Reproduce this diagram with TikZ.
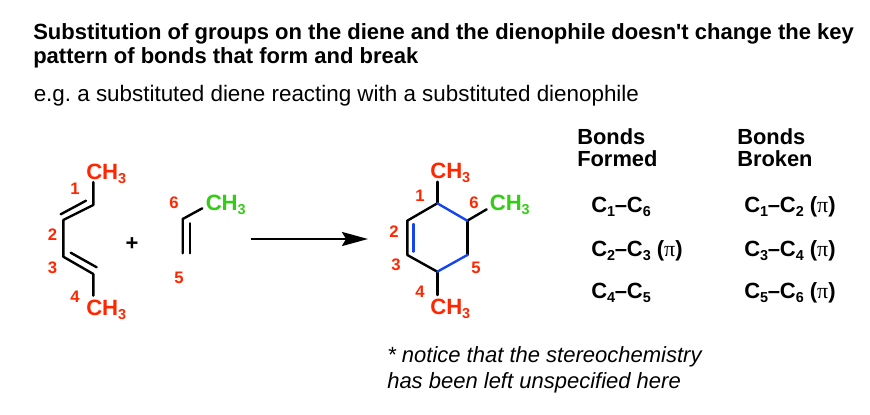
\documentclass[tikz,border=0pt]{standalone}
\usepackage{fontspec}
\setmainfont{Liberation Sans}
\newfontfamily\pifont{Liberation Serif}
\newfontfamily\plainq[Ligatures=ResetAll]{Liberation Sans Bold}
\usetikzlibrary{arrows.meta}
\definecolor{molred}{RGB}{255,38,0}
\definecolor{molgreen}{RGB}{50,205,20}
\definecolor{molblue}{RGB}{20,70,240}
\tikzset{
 bond/.style={line width=1.8pt,line cap=round,line join=round,black},
 newbond/.style={bond,draw=molblue},
 titletext/.style={inner sep=0,anchor=base west,align=left,font=\fontsize{16.5}{18.2}\selectfont\bfseries},
 subtext/.style={inner sep=0,anchor=base west,font=\fontsize{16.8}{20}\selectfont},
 note/.style={inner sep=0,anchor=base west,align=left,font=\fontsize{16.5}{19}\selectfont\itshape},
 head/.style={inner sep=0,anchor=base west,align=left,font=\fontsize{16.4}{16.5}\selectfont\bfseries},
 eqn/.style={inner sep=0,anchor=base west,font=\fontsize{16.5}{18}\selectfont\bfseries},
 num/.style={inner sep=0,text=molred,font=\fontsize{12.5}{14}\selectfont\bfseries},
 grp/.style={inner sep=0,anchor=base west,text=molred,font=\fontsize{16.6}{18}\selectfont\bfseries},
 grpg/.style={grp,text=molgreen},
}
\newcommand{\lowsub}[1]{\raisebox{-3.2pt}{\fontsize{10.8}{11}\selectfont #1}}
\newcommand{\CC}[2]{C\lowsub{#1}\kern-0.2pt–\kern-0.2pt C\lowsub{#2}}
\newcommand{\PI}{ ({\pifont\mdseries π})}
\newcommand{\METH}{CH\lowsub{3}}
\frenchspacing
\begin{document}
\begin{tikzpicture}[x=0.75pt,y=-0.75pt]
\useasboundingbox (0,0) rectangle (870,414);
% text
\node[titletext] (t1) at (33,63.5) {Substitution of groups on the diene and the dienophile doesn{\plainq\char39}t change the key\\pattern of bonds that form and break};
\node[subtext] (t2) at (33.5,101.5) {e.g. a substituted diene reacting with a substituted dienophile};
\node[note] (t3) at (387,388) {* notice that the stereochemistry\\has been left unspecified here};
% diene
\coordinate (a0) at (93.3,182);
\coordinate (a1) at (93.3,205);
\coordinate (a2) at (63.3,220);
\coordinate (a3) at (63.3,256.7);
\coordinate (a4) at (93.3,274);
\coordinate (a5) at (93.3,295.7);
\coordinate (b1) at (86,200.7);
\coordinate (b2) at (60.7,214.3);
\coordinate (b3) at (70.7,252.7);
\coordinate (b4) at (96.7,267.3);
\draw[bond] (a0) -- (a1) -- (a2) -- (a3) -- (a4) -- (a5);
\draw[bond] (b1) -- (b2);
\draw[bond] (b3) -- (b4);
\node[grp] (m1) at (86,179) {\METH};
\node[grp] (m2) at (86,315) {\METH};
\node[num] (n1) at (75,189) {1};
\node[num] (n2) at (52.5,235) {2};
\node[num] (n3) at (52.5,268) {3};
\node[num] (n4) at (75,297) {4};
\node[inner sep=0,font=\fontsize{16.5}{18}\selectfont\bfseries] (plus) at (132,244) {+};
% dienophile
\coordinate (d0) at (202.3,208.3);
\coordinate (d1) at (182.7,219);
\coordinate (d2) at (182.7,253.3);
\coordinate (e1) at (190,223.3);
\coordinate (e2) at (190,253.3);
\draw[bond] (d0) -- (d1) -- (d2);
\draw[bond] (e1) -- (e2);
\node[grpg] (m3) at (205.5,210) {\METH};
\node[num] (n6) at (174,203) {6};
\node[num] (n5) at (179,278) {5};
% arrow
\coordinate (ar1) at (250.5,239);
\coordinate (ar2) at (368,239);
\draw[line width=1.8pt,-{Stealth[length=19.5pt,width=10.5pt,inset=3pt]}] (ar1) -- (ar2);
% product
\coordinate (r1) at (437.3,203.3);
\coordinate (r0) at (437.3,181.7);
\coordinate (r6) at (467.3,220.7);
\coordinate (r7) at (486.7,209.3);
\coordinate (r5) at (467.3,255);
\coordinate (r4) at (437.3,271.7);
\coordinate (r8) at (437.3,295);
\coordinate (r3) at (407.3,255);
\coordinate (r2) at (407.3,220.7);
\coordinate (i2) at (413.3,224);
\coordinate (i3) at (413.3,251.7);
\draw[bond] (r0) -- (r1);
\draw[bond] (r6) -- (r7);
\draw[bond] (r6) -- (r5);
\draw[bond] (r4) -- (r8);
\draw[bond] (r4) -- (r3) -- (r2) -- (r1);
\draw[newbond] (r1) -- (r6);
\draw[newbond] (r5) -- (r4);
\draw[newbond] (i2) -- (i3);
\node[grp] (m4) at (430,178) {\METH};
\node[grpg] (m5) at (489.5,210) {\METH};
\node[grp] (m6) at (430,314) {\METH};
\node[num] (p1) at (420,196) {1};
\node[num] (p2) at (394,232) {2};
\node[num] (p3) at (396,265) {3};
\node[num] (p4) at (420,292) {4};
\node[num] (p5) at (476,268) {5};
\node[num] (p6) at (474,203) {6};
% tables
\node[head] (h1) at (577,166) {Bonds\\Formed};
\node[head] (h2) at (737,166) {Bonds\\Broken};
\node[eqn] (c1) at (591,212.5) {\CC{1}{6}};
\node[eqn] (c2) at (591,256) {\CC{2}{3}\PI};
\node[eqn] (c3) at (591,298.5) {\CC{4}{5}};
\node[eqn] (c4) at (744,212.5) {\CC{1}{2}\PI};
\node[eqn] (c5) at (744,256) {\CC{3}{4}\PI};
\node[eqn] (c6) at (744,298.5) {\CC{5}{6}\PI};
\end{tikzpicture}
\end{document}
